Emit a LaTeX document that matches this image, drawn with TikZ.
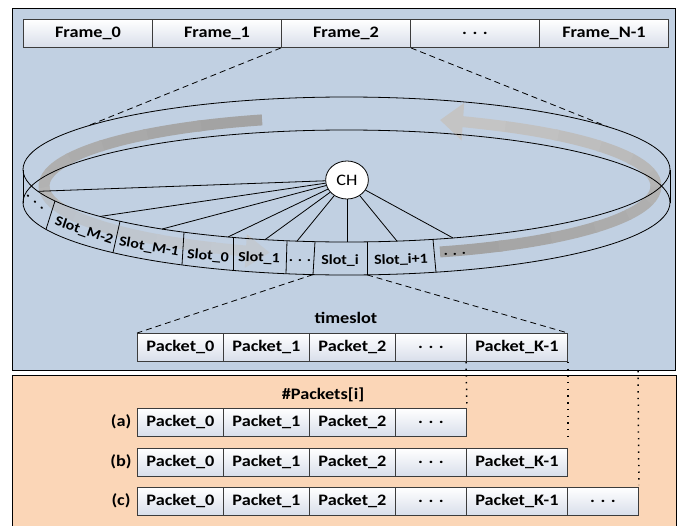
\documentclass[tikz,border=0pt]{standalone}
\usepackage{fontspec}
\setmainfont{Carlito}[FakeStretch=1.14]
\usetikzlibrary{arrows.meta,shapes.geometric,calc}
\definecolor{bgB}{RGB}{193,208,226}
\definecolor{bgO}{RGB}{251,214,183}
\definecolor{cellB}{RGB}{216,222,234}
\definecolor{lineC}{RGB}{60,60,60}
\definecolor{arrDark}{RGB}{163,163,163}
\definecolor{arrLight}{RGB}{200,200,200}
\newcommand\TP[1]{(#1,{169.5+72.5*sqrt(1-((#1-346.5)/323.5)*((#1-346.5)/323.5))})}
\newcommand\BP[1]{(#1,{202.5+72.5*sqrt(1-((#1-346.5)/323.5)*((#1-346.5)/323.5))})}
\newcommand\AP[1]{({350+306*cos(#1)},{186+69*sin(#1)})}
\begin{document}
\begin{tikzpicture}[x=1pt,y=-1pt,
  cell/.style={draw=lineC, line width=0.9pt, top color=white, bottom color=cellB,
    minimum height=28pt, inner sep=0pt, anchor=north west,
    font=\fontsize{16}{18}\selectfont\bfseries},
  lab/.style={inner sep=0pt, font=\fontsize{16}{18}\selectfont\bfseries},
  slotlab/.style={inner sep=0pt, font=\fontsize{14}{16}\selectfont\bfseries},
  ring/.style={line width=0.8pt},
  dashln/.style={dash pattern=on 6pt off 4pt, line width=0.8pt},
  dotln/.style={dash pattern=on 1.4pt off 5.3pt, line width=1.5pt},
  garrow/.style={line width=11pt}
]
\useasboundingbox (0,0) rectangle (680,525);
% background panels
\draw[fill=bgB, draw=black, line width=0.9pt] (12,8) rectangle (675,370);
\draw[fill=bgO, draw=black, line width=0.9pt] (12,375) rectangle (676,540);

% gray circulating arrows (fading from tail to head)
\foreach \k in {0,...,10}{
  \pgfmathsetmacro\sa{253.3-\k*12.4}
  \pgfmathsetmacro\ea{\sa-13.2}
  \pgfmathtruncatemacro\p{100-\k*8}
  \draw[garrow, draw=arrDark!\p!arrLight] \AP{\sa} arc[start angle=\sa, end angle=\ea, x radius=306, y radius=69];
}
\draw[garrow, draw=arrDark!12!arrLight, -{Triangle[length=24pt,width=32pt]}]
  \AP{117} arc[start angle=117, end angle=105.2, x radius=306, y radius=69];
\foreach \k in {0,...,10}{
  \pgfmathsetmacro\sa{72.9-\k*12}
  \pgfmathsetmacro\ea{\sa-12.8}
  \pgfmathtruncatemacro\p{100-\k*8}
  \draw[garrow, draw=arrDark!\p!arrLight] \AP{\sa} arc[start angle=\sa, end angle=\ea, x radius=306, y radius=69];
}
\draw[garrow, draw=arrDark!12!arrLight, -{Triangle[length=23pt,width=36pt]}]
  \AP{-59.5} arc[start angle=-59.5, end angle=-72.9, x radius=306, y radius=69];

% translucent slot band
\fill[bgB, opacity=0.45] (23,169.5) arc[start angle=180, end angle=74.5, x radius=323.5, y radius=72.5]
  -- \BP{436} arc[start angle=73.9, end angle=180, x radius=323.5, y radius=72.5] -- cycle;

% ring
\draw[ring] (346.5,169.5) ellipse[x radius=323.5, y radius=72.5];
\draw[ring] (346.5,202.5) ellipse[x radius=323.5, y radius=72.5];
\draw[ring] (23,169.5) -- (23,202.5);
\draw[ring] (670,169.5) -- (670,202.5);

% slot dividers
\path \BP{313} coordinate (siL);
\path \BP{367} coordinate (siR);
\draw[ring] \TP{55} -- \BP{46};
\draw[ring] \TP{120} -- \BP{113};
\draw[ring] \TP{184} -- \BP{182};
\draw[ring] \TP{233} -- \BP{233};
\draw[ring] \TP{287} -- \BP{286};
\draw[ring] \TP{315} -- (siL);
\draw[ring] \TP{367} -- (siR);
\draw[ring] \TP{433} -- \BP{436};

% spokes
\node[draw, ellipse, fill=white, minimum width=42.7pt, minimum height=38pt, inner sep=0pt,
  line width=0.8pt, font=\fontsize{16}{18}\selectfont] (CH) at (347,180) {CH};
\path \TP{38} coordinate (sp1);
\path \TP{100} coordinate (sp2);
\path \TP{162} coordinate (sp3);
\path \TP{228} coordinate (sp4);
\path \TP{265} coordinate (sp5);
\path \TP{297} coordinate (sp6);
\path \TP{347} coordinate (sp7);
\path \TP{397} coordinate (sp8);
\path \TP{453} coordinate (sp9);
\foreach \i in {1,...,9} \draw[ring] (CH) -- (sp\i);

% slot labels
\node[slotlab, rotate=-41] (l0) at (35,202) {. . .};
\node[slotlab, rotate=-19] (l1) at (84,231) {Slot\_M-2};
\node[slotlab, rotate=-10] (l2) at (149,247) {Slot\_M-1};
\node[slotlab, rotate=-5] (l3) at (208,256) {Slot\_0};
\node[slotlab, rotate=-2] (l4) at (259,258) {Slot\_1};
\node[slotlab] (l5) at (300,261) {. . .};
\node[slotlab] (l6) at (340,261) {Slot\_i};
\node[slotlab, rotate=2] (l7) at (401,260) {Slot\_i+1};
\node[slotlab, rotate=5] (l8) at (455,254) {. . .};

% frames
\node[cell, minimum width=129pt] (f0) at (23,19) {Frame\_0};
\node[cell, minimum width=129pt] (f1) at (152,19) {Frame\_1};
\node[cell, minimum width=129pt] (f2) at (281,19) {Frame\_2};
\node[cell, minimum width=129pt] (f3) at (410,19) {. . .};
\node[cell, minimum width=129pt] (f4) at (539,19) {Frame\_N-1};
\coordinate (rl) at (87,126.2);
\coordinate (rr) at (608,126.8);
\draw[dashln] (f2.south west) -- (rl);
\draw[dashln] (f2.south east) -- (rr);

% timeslot
\node[lab] (ts) at (346,318) {timeslot};
\node[cell, minimum width=86pt] (t0) at (137,333) {Packet\_0};
\node[cell, minimum width=86pt] (t1) at (223,333) {Packet\_1};
\node[cell, minimum width=86pt] (t2) at (309,333) {Packet\_2};
\node[cell, minimum width=71pt] (t3) at (395,333) {. . .};
\node[cell, minimum width=101pt] (tK) at (466,333) {Packet\_K-1};
\draw[dashln] (siL) -- (t0.north west);
\draw[dashln] (siR) -- (tK.north east);

% lower panel
\node[lab] (np) at (323,395) {\#Packets[i]};
\node[lab] (la) at (121,422) {(a)};
\node[cell, minimum width=86pt] (a0) at (137,408) {Packet\_0};
\node[cell, minimum width=86pt] (a1) at (223,408) {Packet\_1};
\node[cell, minimum width=86pt] (a2) at (309,408) {Packet\_2};
\node[cell, minimum width=71pt] (a3) at (395,408) {. . .};

\node[lab] (lb) at (121,462) {(b)};
\node[cell, minimum width=86pt] (b0) at (137,448) {Packet\_0};
\node[cell, minimum width=86pt] (b1) at (223,448) {Packet\_1};
\node[cell, minimum width=86pt] (b2) at (309,448) {Packet\_2};
\node[cell, minimum width=71pt] (b3) at (395,448) {. . .};
\node[cell, minimum width=101pt] (b4) at (466,448) {Packet\_K-1};

\node[lab] (lc) at (121,501) {(c)};
\node[cell, minimum width=86pt] (c0) at (137,487) {Packet\_0};
\node[cell, minimum width=86pt] (c1) at (223,487) {Packet\_1};
\node[cell, minimum width=86pt] (c2) at (309,487) {Packet\_2};
\node[cell, minimum width=71pt] (c3) at (395,487) {. . .};
\node[cell, minimum width=101pt] (c4) at (466,487) {Packet\_K-1};
\node[cell, minimum width=71pt] (c5) at (567,487) {. . .};

% dotted guides
\coordinate (g3) at (638,371);
\draw[dotln] (tK.south west) -- (a3.north east);
\draw[dotln] (tK.south east) -- ([yshift=6pt]b4.north east);
\draw[dotln] (g3) -- ([yshift=2pt]c5.north east);
\end{tikzpicture}
\end{document}
